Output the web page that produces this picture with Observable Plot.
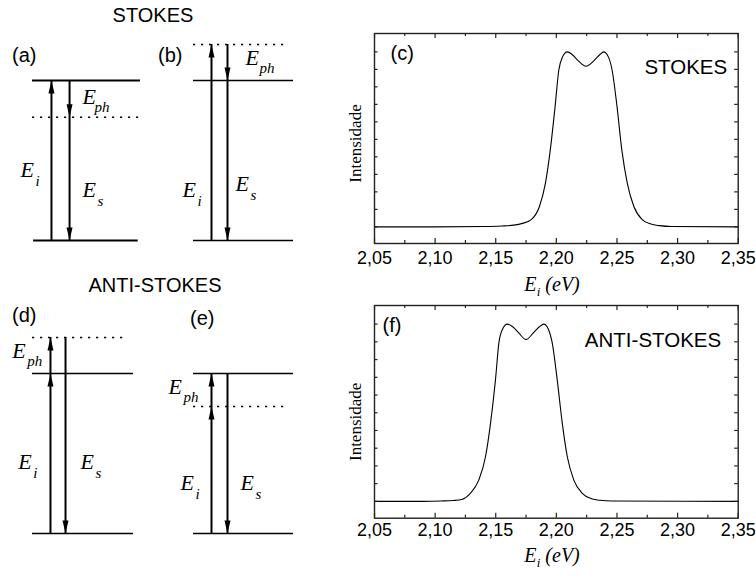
<!DOCTYPE html>
<html>
<head>
<meta charset="utf-8">
<script src="https://cdn.jsdelivr.net/npm/d3@7"></script>
<script src="https://cdn.jsdelivr.net/npm/@observablehq/plot@0.6"></script>
<style>
  body { margin: 0; background: #fff; }
  #fig { position: relative; width: 756px; height: 580px; background: #fff; font-family: "Liberation Sans", Arial, sans-serif; color: #000; }
  #fig svg { position: absolute; overflow: visible; }
  .lbl { position: absolute; height: 24px; line-height: 24px; font-size: 20px; white-space: nowrap; }
</style>
</head>
<body>
<div id="fig"></div>
<script>
// ---------- data: spectra ----------
const xTicksMajor = [2.05, 2.10, 2.15, 2.20, 2.25, 2.30, 2.35];
const xTickLabels = ["2,05", "2,10", "2,15", "2,20", "2,25", "2,30", "2,35"];
const xTicksMinor = [2.075, 2.125, 2.175, 2.225, 2.275, 2.325];
const yTicks = [0, 0.1, 0.2, 0.3, 0.4, 0.5, 0.6, 0.7, 0.8, 0.9, 1.0];

const stokesE = [2.05, 2.10, 2.14, 2.155, 2.165, 2.172, 2.179, 2.186, 2.191, 2.195, 2.199, 2.202, 2.205, 2.209, 2.213, 2.218, 2.2245, 2.231, 2.236, 2.239, 2.243, 2.246, 2.250, 2.254, 2.2585, 2.264, 2.271, 2.278, 2.285, 2.295, 2.35];
const stokesI = [0, 0, 0.002, 0.005, 0.010, 0.020, 0.040, 0.115, 0.25, 0.44, 0.69, 0.895, 0.97, 1.0, 0.985, 0.95, 0.918, 0.95, 0.985, 1.0, 0.97, 0.895, 0.69, 0.44, 0.25, 0.115, 0.040, 0.016, 0.007, 0.002, 0];

const antiE = [2.05, 2.09, 2.105, 2.115, 2.122, 2.129, 2.136, 2.1416, 2.1457, 2.1498, 2.1526, 2.1555, 2.1595, 2.164, 2.169, 2.175, 2.181, 2.186, 2.1897, 2.1935, 2.1966, 2.2007, 2.2049, 2.209, 2.2144, 2.2214, 2.229, 2.236, 2.246, 2.35];
const antiI = [0, 0, 0.002, 0.005, 0.011, 0.045, 0.12, 0.253, 0.44, 0.687, 0.894, 0.97, 1.0, 0.985, 0.95, 0.913, 0.95, 0.985, 1.0, 0.97, 0.894, 0.687, 0.44, 0.253, 0.12, 0.045, 0.015, 0.006, 0.002, 0];

// ---------- data: energy level diagrams (x: fraction of level width, e: energy units) ----------
const levelsA = [{e: 0, x1: 0.01, x2: 0.97, dash: false}, {e: 1, x1: 0, x2: 0.99, dash: false}, {e: 0.77, x1: 0, x2: 1, dash: true}];
const arrowsA = [{x: 0.174, from: 0, to: 1}, {x: 0.34, from: 1, to: 0}];
const headsA = [{x: 0.174, e: 1, dir: "up"}, {x: 0.34, e: 0.77, dir: "down"}, {x: 0.34, e: 0, dir: "down"}];
const labelsA = [{x: 0.459, e: 0.854, sub: "ph"}, {x: -0.11, e: 0.394, sub: "i"}, {x: 0.459, e: 0.269, sub: "s"}];

const levelsB = [{e: 0, x1: 0, x2: 1, dash: false}, {e: 1, x1: 0, x2: 1, dash: false}, {e: 1.225, x1: 0, x2: 0.94, dash: true}];
const arrowsB = [{x: 0.18, from: 0, to: 1.225}, {x: 0.34, from: 1.225, to: 0}];
const headsB = [{x: 0.18, e: 1.225, dir: "up"}, {x: 0.34, e: 1, dir: "down"}, {x: 0.34, e: 0, dir: "down"}];
const labelsB = [{x: 0.52, e: 1.094, sub: "ph"}, {x: -0.11, e: 0.269, sub: "i"}, {x: 0.42, e: 0.3125, sub: "s"}];

const levelsD = [{e: 0, x1: 0, x2: 1, dash: false}, {e: 1, x1: 0, x2: 1, dash: false}, {e: 1.225, x1: 0, x2: 0.95, dash: true}];
const arrowsD = [{x: 0.178, from: 0, to: 1.225}, {x: 0.327, from: 1.225, to: 0}];
const headsD = [{x: 0.178, e: 1, dir: "up"}, {x: 0.178, e: 1.225, dir: "up"}, {x: 0.327, e: 0, dir: "down"}];
const labelsD = [{x: -0.2, e: 1.094, sub: "ph"}, {x: -0.14, e: 0.406, sub: "i"}, {x: 0.475, e: 0.406, sub: "s"}];

const levelsE = [{e: 0, x1: 0, x2: 1, dash: false}, {e: 1, x1: 0, x2: 1, dash: false}, {e: 0.794, x1: 0, x2: 0.94, dash: true}];
const arrowsE = [{x: 0.18, from: 0, to: 1}, {x: 0.34, from: 1, to: 0}];
const headsE = [{x: 0.18, e: 0.794, dir: "up"}, {x: 0.18, e: 1, dir: "up"}, {x: 0.34, e: 0, dir: "down"}];
const labelsE = [{x: -0.25, e: 0.875, sub: "ph"}, {x: -0.13, e: 0.269, sub: "i"}, {x: 0.47, e: 0.269, sub: "s"}];

const titles = [
  {text: "STOKES", cx: 153, cy: 15, center: true},
  {text: "(a)", cx: 12, cy: 55},
  {text: "(b)", cx: 158, cy: 55},
  {text: "ANTI-STOKES", cx: 155, cy: 285, center: true},
  {text: "(d)", cx: 12, cy: 315},
  {text: "(e)", cx: 190, cy: 318}
];

// ---------- drawing ----------
const fig = document.getElementById("fig");
const SERIF = "'Liberation Serif', 'Times New Roman', serif";
const SANS = "'Liberation Sans', Arial, sans-serif";

const headSymbol = {
  draw(ctx) { ctx.moveTo(0, 0); ctx.lineTo(-3, 13); ctx.lineTo(3, 13); ctx.closePath(); }
};

function place(svg, left, top) {
  svg.style.left = left + "px";
  svg.style.top = top + "px";
  fig.appendChild(svg);
}

function diagram({sx, sy, x0, w, levels, arrows, heads, labels, lineW, phDx}) {
  const W = 160, H = 262;
  const ml = x0 - sx;
  const p = Plot.plot({
    width: W, height: H,
    marginLeft: ml, marginRight: W - ml - w, marginTop: 32, marginBottom: H - 240,
    x: {domain: [0, 1], axis: null},
    y: {domain: [0, 1.3], axis: null},
    style: {background: "transparent", overflow: "visible"},
    marks: [
      Plot.ruleY(levels.filter(d => !d.dash), {y: "e", x1: "x1", x2: "x2", stroke: "black", strokeWidth: lineW}),
      Plot.ruleY(levels.filter(d => d.dash), {y: "e", x1: "x1", x2: "x2", stroke: "black", strokeWidth: 1.4, strokeDasharray: "2.2,5.8"}),
      Plot.ruleX(arrows, {x: "x", y1: "from", y2: "to", stroke: "black", strokeWidth: 2}),
      Plot.dot(heads, {x: "x", y: "e", symbol: headSymbol, rotate: d => d.dir === "down" ? 180 : 0, fill: "black", stroke: "none"}),
      Plot.text(labels, {x: "x", y: "e", text: () => "E", textAnchor: "start", lineAnchor: "bottom", fontFamily: SERIF, fontStyle: "italic", fontSize: 22}),
      Plot.text(labels.filter(d => d.sub !== "ph"), {x: "x", y: "e", text: "sub", textAnchor: "start", lineAnchor: "bottom", dx: 15, dy: 9, fontFamily: SERIF, fontStyle: "italic", fontSize: 15}),
      Plot.text(labels.filter(d => d.sub === "ph"), {x: "x", y: "e", text: "sub", textAnchor: "start", lineAnchor: "bottom", dx: phDx, dy: 8, fontFamily: SERIF, fontStyle: "italic", fontSize: 15})
    ]
  });
  place(p, sx, sy);
}

diagram({sx: 0, sy: 0, x0: 32, w: 109, levels: levelsA, arrows: arrowsA, heads: headsA, labels: labelsA, lineW: 2.2, phDx: 12});
diagram({sx: 160, sy: 0, x0: 193, w: 100, levels: levelsB, arrows: arrowsB, heads: headsB, labels: labelsB, lineW: 1.6, phDx: 14});
diagram({sx: 0, sy: 293, x0: 32, w: 101, levels: levelsD, arrows: arrowsD, heads: headsD, labels: labelsD, lineW: 1.6, phDx: 15});
diagram({sx: 160, sy: 293, x0: 193, w: 100, levels: levelsE, arrows: arrowsE, heads: headsE, labels: labelsE, lineW: 1.6, phDx: 15});

function spectrum({E, I, left, top, width, height, mt, mb, ml, mr, letter, letterDx, name, nameDx, nameDy, ylabDy, tickDy, eDy}) {
  const innerH = height - mt - mb, innerW = width - ml - mr;
  const pts = E.map((x, i) => ({x, y: I[i]}));
  const p = Plot.plot({
    width, height, marginTop: mt, marginBottom: mb, marginLeft: ml, marginRight: mr,
    x: {domain: [2.05, 2.35], axis: null},
    y: {domain: [-0.095, 1.105], axis: null},
    style: {background: "transparent", overflow: "visible"},
    marks: [
      Plot.line(pts, {x: "x", y: "y", curve: "monotone-x", stroke: "black", strokeWidth: 1.1}),
      Plot.tickX(xTicksMajor, {x: d => d, insetTop: innerH - 5, stroke: "#222", strokeWidth: 1.2}),
      Plot.tickX(xTicksMajor, {x: d => d, insetBottom: innerH - 5, stroke: "#222", strokeWidth: 1.2}),
      Plot.tickX(xTicksMinor, {x: d => d, insetTop: innerH - 3, stroke: "#222", strokeWidth: 1.2}),
      Plot.tickX(xTicksMinor, {x: d => d, insetBottom: innerH - 3, stroke: "#222", strokeWidth: 1.2}),
      Plot.tickY(yTicks, {y: d => d, insetRight: innerW - 3.5, stroke: "#222", strokeWidth: 1.2}),
      Plot.tickY(yTicks, {y: d => d, insetLeft: innerW - 3.5, stroke: "#222", strokeWidth: 1.2}),
      Plot.frame({stroke: "#222", strokeWidth: 1.4}),
      Plot.text(xTicksMajor, {x: d => d, text: (d, i) => xTickLabels[i], frameAnchor: "bottom", lineAnchor: "middle", dy: tickDy, fontFamily: SANS, fontSize: 18, fill: "black"}),
      Plot.text([0], {frameAnchor: "bottom", text: () => "E", textAnchor: "start", lineAnchor: "bottom", dx: -32, dy: eDy, fontFamily: SERIF, fontStyle: "italic", fontSize: 20}),
      Plot.text([0], {frameAnchor: "bottom", text: () => "i", textAnchor: "start", lineAnchor: "bottom", dx: -19.5, dy: eDy + 5, fontFamily: SERIF, fontStyle: "italic", fontSize: 13}),
      Plot.text([0], {frameAnchor: "bottom", text: () => "(eV)", textAnchor: "start", lineAnchor: "bottom", dx: -11, dy: eDy, fontFamily: SERIF, fontStyle: "italic", fontSize: 20}),
      Plot.text([0], {frameAnchor: "left", text: () => "Intensidade", rotate: -90, textAnchor: "middle", lineAnchor: "middle", dx: -19, dy: ylabDy, fontFamily: SERIF, fontSize: 17}),
      Plot.text([0], {frameAnchor: "top-left", text: () => letter, textAnchor: "start", lineAnchor: "middle", dx: letterDx, dy: 20, fontFamily: SANS, fontSize: 20}),
      Plot.text([0], {frameAnchor: "top-right", text: () => name, textAnchor: "end", lineAnchor: "middle", dx: nameDx, dy: nameDy, fontFamily: SANS, fontSize: 20.5})
    ]
  });
  place(p, left, top);
}

spectrum({E: stokesE, I: stokesI, left: 340, top: 20, width: 416, height: 280, mt: 13, mb: 57, ml: 34, mr: 18.3,
  letter: "(c)", letterDx: 16, name: "STOKES", nameDx: -11, nameDy: 34, ylabDy: 5, tickDy: 14.5, eDy: 47});
spectrum({E: antiE, I: antiI, left: 340, top: 290, width: 416, height: 290, mt: 15, mb: 62.3, ml: 34, mr: 18.3,
  letter: "(f)", letterDx: 8, name: "ANTI-STOKES", nameDx: -17, nameDy: 35, ylabDy: 10, tickDy: 12, eDy: 44});

// titles and panel letters
for (const t of titles) {
  const d = document.createElement("div");
  d.className = "lbl";
  d.textContent = t.text;
  d.style.top = (t.cy - 12) + "px";
  if (t.center) { d.style.left = (t.cx - 100) + "px"; d.style.width = "200px"; d.style.textAlign = "center"; }
  else d.style.left = t.cx + "px";
  fig.appendChild(d);
}
</script>
</body>
</html>
